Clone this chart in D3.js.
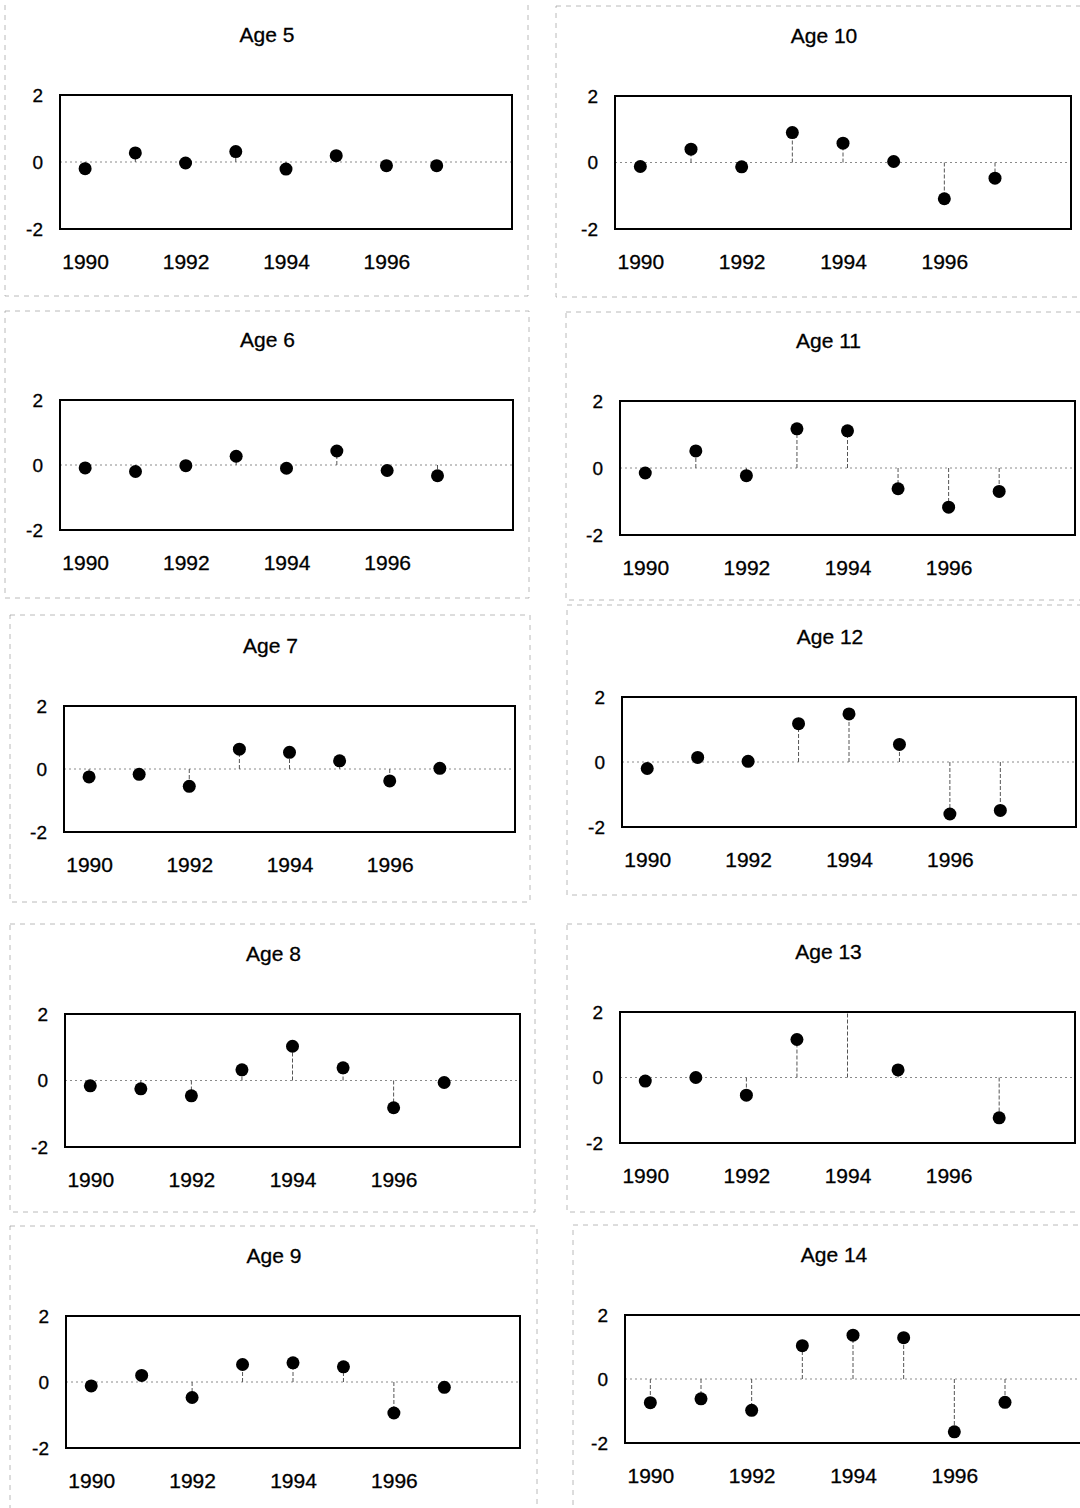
<!DOCTYPE html>
<html>
<head>
<meta charset="utf-8">
<script src="https://cdn.jsdelivr.net/npm/d3@7"></script>
<style>
  html, body { margin: 0; padding: 0; background: #fff; }
  svg { display: block; }
  text { font-family: "Liberation Sans", Arial, sans-serif; fill: #000; stroke: #000; stroke-width: 0.3px; }
</style>
</head>
<body>
<svg id="chart" width="1080" height="1508"></svg>
<script>
// Residuals by year for each age class
const years = [1990, 1991, 1992, 1993, 1994, 1995, 1996, 1997];
const yearTicks = [1990, 1992, 1994, 1996];
const valueTicks = [-2, 0, 2];

const age5  = [-0.20, 0.27, -0.03, 0.31, -0.21, 0.19, -0.11, -0.11];
const age6  = [-0.09, -0.20, -0.02, 0.27, -0.10, 0.43, -0.17, -0.33];
const age7  = [-0.25, -0.17, -0.55, 0.63, 0.53, 0.26, -0.38, 0.02];
const age8  = [-0.16, -0.25, -0.46, 0.32, 1.03, 0.38, -0.82, -0.06];
const age9  = [-0.12, 0.20, -0.47, 0.53, 0.58, 0.46, -0.94, -0.16];
const age10 = [-0.12, 0.40, -0.13, 0.90, 0.58, 0.03, -1.09, -0.47];
const age11 = [-0.15, 0.51, -0.23, 1.17, 1.11, -0.62, -1.17, -0.70];
const age12 = [-0.20, 0.14, 0.02, 1.18, 1.48, 0.54, -1.60, -1.49];
const age13 = [-0.11, 0.00, -0.54, 1.16, 2.30, 0.23, null, -1.23];
const age14 = [-0.74, -0.62, -0.98, 1.04, 1.37, 1.29, -1.65, -0.73];

const titles = ["Age 5", "Age 6", "Age 7", "Age 8", "Age 9",
                "Age 10", "Age 11", "Age 12", "Age 13", "Age 14"];
const series = [age5, age6, age7, age8, age9, age10, age11, age12, age13, age14];

// Page layout: plot box [x, y, w, h] and outer panel frame for each panel
const plotBoxes = [
  [60, 95, 452, 134], [60, 400, 453, 130], [64, 706, 451, 126],
  [65, 1014, 455, 133], [66, 1316, 454, 132],
  [615, 96, 456, 133], [620, 401, 455, 134], [622, 697, 454, 130],
  [620, 1012, 455, 131], [625, 1315, 456, 128]
];
const frames = [
  [5, -2, 523, 298], [5, 311, 524, 287], [10, 615, 520, 287],
  [10, 924, 525, 288], [10, 1226, 527, 290],
  [556, 6, 530, 291], [566, 312, 520, 288], [567, 605, 520, 290],
  [567, 924, 520, 288], [573, 1225, 515, 290]
];

const svg = d3.select("#chart");

// faint dashed panel frames
svg.append("g").selectAll("rect")
  .data(frames)
  .join("rect")
  .attr("x", d => d[0]).attr("y", d => d[1])
  .attr("width", d => d[2]).attr("height", d => d[3])
  .attr("fill", "none")
  .attr("stroke", "#a8a8a8")
  .attr("stroke-width", 0.8)
  .attr("stroke-dasharray", "5,5");

const plainNumber = d => String(d);

series.forEach((vals, i) => {
  const [bx, by, bw, bh] = plotBoxes[i];
  const g = svg.append("g").attr("transform", `translate(${bx},${by})`);

  const x = d3.scaleLinear().domain([1989.5, 1998.5]).range([0, bw]);
  const y = d3.scaleLinear().domain([-2, 2]).range([bh, 0]);

  const clipId = "clip" + i;
  g.append("clipPath").attr("id", clipId)
    .append("rect").attr("width", bw).attr("height", bh);

  // title
  g.append("text")
    .attr("x", bw / 2 - 19)
    .attr("y", -53)
    .attr("text-anchor", "middle")
    .style("font-size", "21px")
    .text(titles[i]);

  // y axis labels
  const ya = g.append("g")
    .call(d3.axisLeft(y).tickValues(valueTicks).tickSize(0).tickPadding(17)
      .tickFormat(plainNumber));
  ya.select(".domain").remove();
  ya.selectAll("text").style("font-size", "19px")
    .style("font-family", "'Liberation Sans', Arial, sans-serif");

  // x axis labels
  const xa = g.append("g").attr("transform", `translate(0,${bh})`)
    .call(d3.axisBottom(x).tickValues(yearTicks).tickSize(0).tickPadding(25)
      .tickFormat(plainNumber));
  xa.select(".domain").remove();
  xa.selectAll("text").style("font-size", "21px")
    .style("font-family", "'Liberation Sans', Arial, sans-serif");

  const plot = g.append("g").attr("clip-path", `url(#${clipId})`);

  // zero reference line
  plot.append("line")
    .attr("x1", 0).attr("x2", bw)
    .attr("y1", y(0)).attr("y2", y(0))
    .attr("stroke", "#8a8a8a")
    .attr("stroke-width", 1)
    .attr("stroke-dasharray", "2,3");

  const pts = years.map((yr, j) => ({ yr, v: vals[j] })).filter(d => d.v !== null);

  // drop lines from zero to each value
  plot.selectAll("line.stem")
    .data(pts)
    .join("line")
    .attr("class", "stem")
    .attr("x1", d => x(d.yr)).attr("x2", d => x(d.yr))
    .attr("y1", y(0)).attr("y2", d => y(d.v))
    .attr("stroke", "#555")
    .attr("stroke-width", 1)
    .attr("stroke-dasharray", "4,2");

  // markers
  plot.selectAll("circle")
    .data(pts)
    .join("circle")
    .attr("cx", d => x(d.yr))
    .attr("cy", d => y(d.v))
    .attr("r", 6.5)
    .attr("fill", "#000");

  // plot border
  g.append("rect")
    .attr("width", bw).attr("height", bh)
    .attr("fill", "none")
    .attr("stroke", "#000")
    .attr("stroke-width", 2);
});
</script>
</body>
</html>
